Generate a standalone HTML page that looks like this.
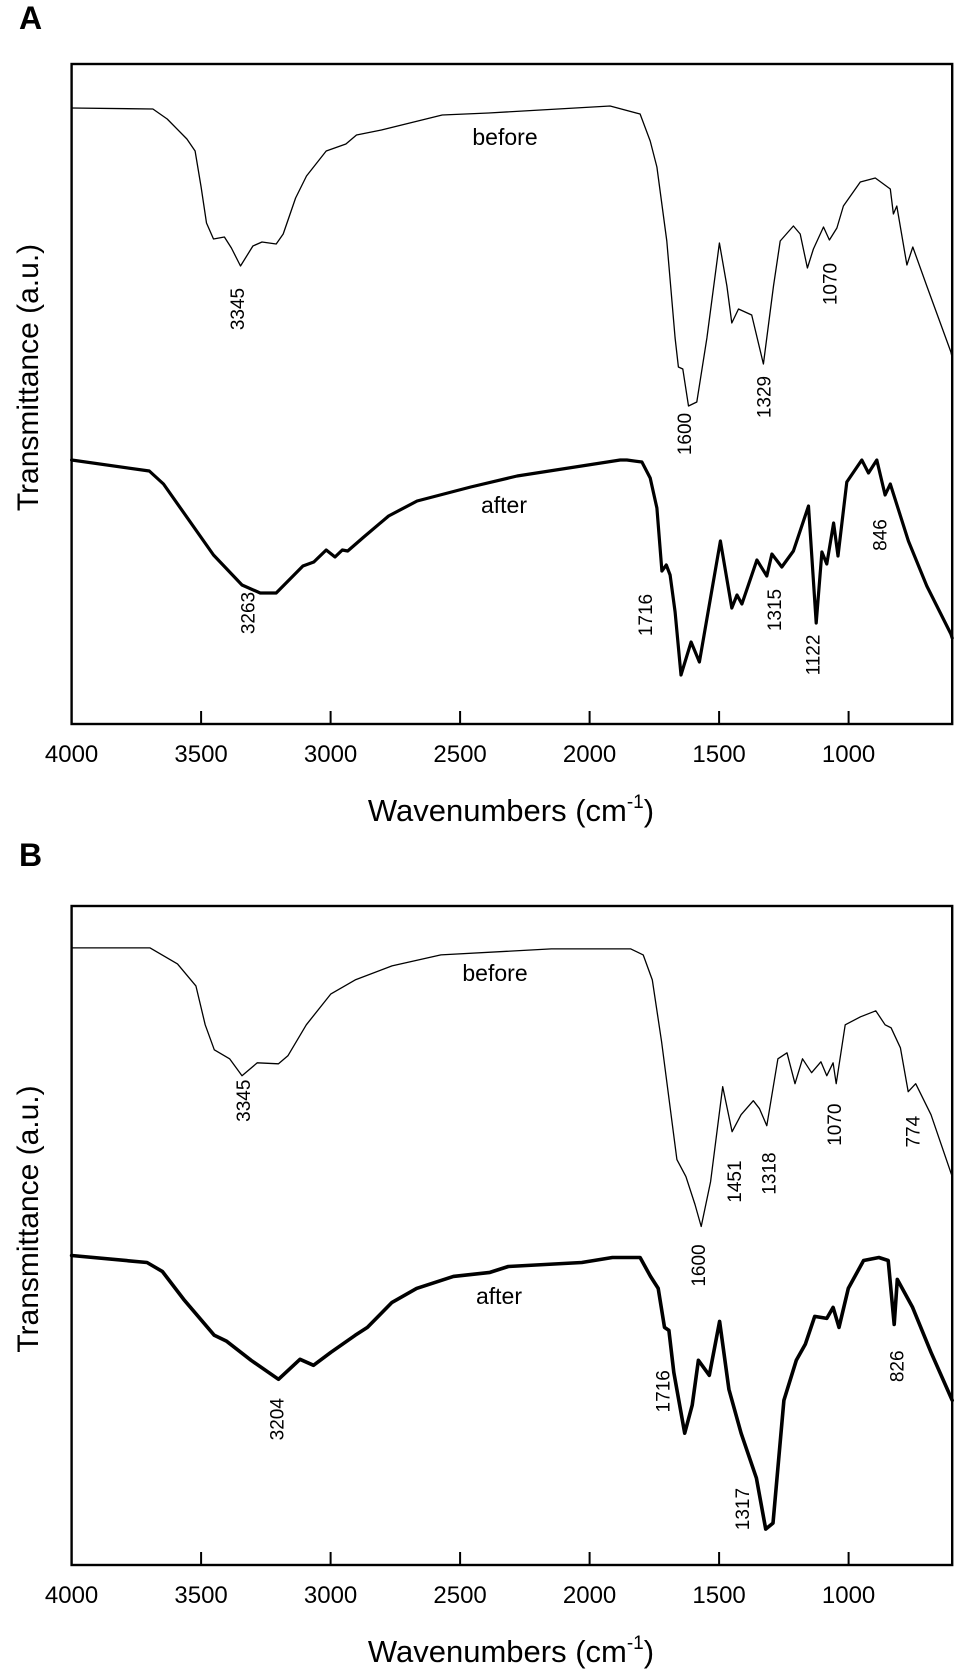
<!DOCTYPE html>
<html><head><meta charset="utf-8"><title>FTIR spectra</title>
<style>
html,body{margin:0;padding:0;background:#fff;}
svg{display:block;font-family:"Liberation Sans",Arial,sans-serif;}
</style></head>
<body>
<svg id="fig" width="960" height="1679" viewBox="0 0 960 1679" xmlns="http://www.w3.org/2000/svg">
  <text x="19" y="29" font-size="32" font-weight="bold">A</text>
  <text x="19" y="866" font-size="32" font-weight="bold">B</text>
</svg>
<script>
// ---- data (wavenumber in cm^-1, transmittance in a.u.) ----
const xTicks = [4000, 3500, 3000, 2500, 2000, 1500, 1000];
const xTickLabels = ["4000", "3500", "3000", "2500", "2000", "1500", "1000"];

const aBeforeWn = [4000,3686,3631,3555,3523,3500,3479,3452,3410,3383,3348,3300,3265,3210,3183,3135,3093,3017,2941,2900,2804,2569,2390,1921,1805,1766,1740,1702,1670,1657,1640,1618,1586,1547,1499,1470,1451,1425,1374,1329,1290,1264,1213,1187,1159,1136,1097,1074,1045,1020,955,897,839,827,814,775,752,698,605,600];
const aBeforeT = [616,615,605,585,573,537,501,485,487,476,458,478,482,480,490,526,548,573,580,589,594,609,611,618,610,583,557,483,386,357,355,318,322,386,481,438,401,415,409,360,438,483,498,490,456,475,497,484,496,518,542,546,535,510,518,459,477,438,372,366];

const aAfterWn = [4000,3700,3645,3452,3342,3272,3210,3107,3065,3017,2983,2955,2934,2872,2776,2666,2459,2280,1882,1856,1798,1766,1740,1721,1704,1689,1670,1647,1608,1576,1495,1451,1431,1412,1354,1316,1296,1258,1213,1155,1125,1103,1084,1058,1041,1007,949,923,891,859,839,769,698,605,600];
const aAfterT = [264,253,240,169,139,131,131,158,162,174,167,174,173,187,208,223,237,248,264,264,262,246,216,153,159,149,112,49,82,62,183,116,129,120,164,148,170,157,173,218,101,172,160,201,168,242,264,251,264,229,240,183,138,90,86];

const bBeforeWn = [4000,3697,3591,3520,3484,3449,3390,3342,3283,3201,3165,3094,2999,2905,2763,2574,2148,1841,1793,1758,1722,1663,1628,1593,1569,1533,1486,1450,1415,1368,1344,1316,1273,1238,1207,1178,1143,1107,1084,1060,1048,1013,954,895,859,836,800,770,741,682,600];
const bBeforeT = [618,618,602,580,541,516,507,490,503,502,510,541,572,586,600,611,617,617,611,586,524,406,389,361,339,384,479,434,451,465,457,440,507,513,482,507,493,504,490,503,482,541,549,555,541,538,518,474,482,451,389];

const bAfterWn = [4000,3709,3650,3567,3449,3401,3307,3201,3118,3066,2999,2905,2858,2763,2668,2526,2385,2314,2030,1912,1805,1765,1735,1711,1694,1675,1633,1604,1580,1538,1498,1462,1415,1356,1320,1292,1250,1202,1167,1131,1084,1060,1037,1001,942,883,847,824,812,753,682,600];
const bAfterT = [310,303,294,266,230,224,205,186,206,200,213,230,238,263,277,289,293,299,303,308,308,289,277,238,235,193,132,160,205,190,244,176,132,87,36,42,165,205,221,249,247,258,238,277,305,308,305,241,286,258,213,165];

// peak annotation text and their placement (label centre, in data units)
const aPeakLabels = ["3345","3263","1600","1329","1070","1716","1315","1122","846"];
const aPeakWn = [3362,3321,1635,1329,1074,1786,1288,1140,881];
const aPeakT = [415,111,290,327,440,109,114,69,189];

const bPeakLabels = ["3345","1600","1451","1318","1070","774","3204","1716","1317","826"];
const bPeakWn = [3338,1581,1443,1309,1056,753,3208,1718,1411,816];
const bPeakT = [465,300,384,392,441,434,146,174,56,199];

// ---- layout ----
const NS = "http://www.w3.org/2000/svg";
const svg = document.getElementById("fig");
const X0 = 71.6, X1 = 952.2, WN_MAX = 4000, WN_MIN = 600;
function xScale(w){ return X0 + (WN_MAX - w) * (X1 - X0) / (WN_MAX - WN_MIN); }

function mk(tag, attrs){
  const e = document.createElementNS(NS, tag);
  for (const k in attrs) e.setAttribute(k, attrs[k]);
  svg.appendChild(e);
  return e;
}

function panel(key, top, bottom, series, peaks){
  const H = bottom - top;
  const yScale = v => bottom - v * H / 660;

  const frame = mk("rect", {x: X0, y: top, width: X1 - X0, height: H, fill: "none", stroke: "#000", "stroke-width": 2.4});
  
  

  xTicks.forEach((t, i) => {
    const x = xScale(t);
    if (i > 0) {
      const tk = mk("line", {x1: x, x2: x, y1: bottom, y2: bottom - 13, stroke: "#000", "stroke-width": 2});
      
      
    }
    const lb = mk("text", {x: x, y: bottom + 38, "text-anchor": "middle", "font-size": 24});
    lb.textContent = xTickLabels[i];
    
    
  });

  const xt = mk("text", {x: 511, y: bottom + 97, "text-anchor": "middle", "font-size": 31});
  xt.innerHTML = 'Wavenumbers (cm<tspan dy="-13" font-size="19">-1</tspan><tspan dy="13">)</tspan>';
  
  

  const cy = top + H * 0.475;
  const yt = mk("text", {x: 0, y: 0, "text-anchor": "middle", "font-size": 30, transform: "translate(38," + cy + ") rotate(-90)"});
  yt.textContent = "Transmittance (a.u.)";
  
  

  series.forEach(s => {
    const d = s.wn.map((w, i) => (i ? "L" : "M") + xScale(w).toFixed(1) + "," + yScale(s.t[i]).toFixed(1)).join("");
    const p = mk("path", {d: d, fill: "none", stroke: "#000", "stroke-width": s.w, "stroke-linejoin": "round", "stroke-linecap": "round"});
    
    
    const t = mk("text", {x: s.lx, y: s.ly, "text-anchor": "middle", "font-size": 23});
    t.textContent = s.name;
    
    
  });

  peaks.labels.forEach((lab, i) => {
    const x = xScale(peaks.wn[i]), y = yScale(peaks.t[i]);
    const t = mk("text", {x: 0, y: 0, "text-anchor": "middle", "font-size": 19, transform: "translate(" + (x + 7).toFixed(1) + "," + y.toFixed(1) + ") rotate(-90)"});
    t.textContent = lab;
    
    
  });
}

panel("panel-a", 64, 724,
  [{name: "before", wn: aBeforeWn, t: aBeforeT, w: 1.3, lx: 505, ly: 145},
   {name: "after", wn: aAfterWn, t: aAfterT, w: 3.2, lx: 504, ly: 513}],
  {labels: aPeakLabels, wn: aPeakWn, t: aPeakT});

panel("panel-b", 906, 1565,
  [{name: "before", wn: bBeforeWn, t: bBeforeT, w: 1.3, lx: 495, ly: 981},
   {name: "after", wn: bAfterWn, t: bAfterT, w: 3.6, lx: 499, ly: 1304}],
  {labels: bPeakLabels, wn: bPeakWn, t: bPeakT});
</script>
</body></html>
